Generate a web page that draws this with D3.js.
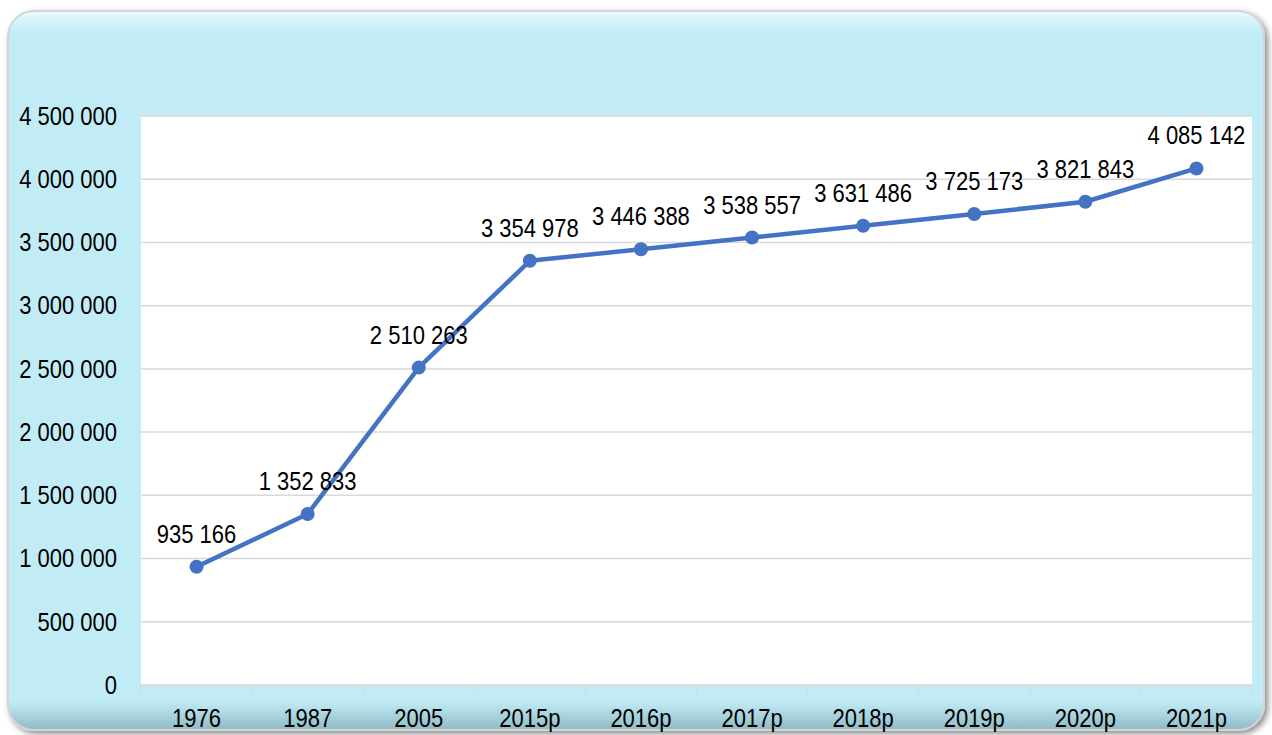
<!DOCTYPE html>
<meta charset="utf-8">
<html>
<head>
<script src="https://cdn.jsdelivr.net/npm/d3@7/dist/d3.min.js"></script>
<style>
  body { margin: 0; background: #fff; }
  text { font-family: "Liberation Sans", Arial, sans-serif; fill: #000; }
</style>
</head>
<body>
<div class="chart"></div>
<script>
// data
var years = ["1976", "1987", "2005", "2015p", "2016p", "2017p", "2018p", "2019p", "2020p", "2021p"];
var population = [935166, 1352833, 2510263, 3354978, 3446388, 3538557, 3631486, 3725173, 3821843, 4085142];
var yTicks = [0, 500000, 1000000, 1500000, 2000000, 2500000, 3000000, 3500000, 4000000, 4500000];

var W = 1272, H = 735;
var plot = {left: 141, right: 1252, top: 116, bottom: 685};
var squeeze = 0.88; // the original font is a narrow face

var svg = d3.select(".chart").append("svg")
    .attr("width", W)
    .attr("height", H);

var defs = svg.append("defs");
var shadow = defs.append("filter").attr("id", "shadow")
    .attr("x", "-5%").attr("y", "-5%").attr("width", "110%").attr("height", "110%");
shadow.append("feDropShadow")
    .attr("dx", 3).attr("dy", 3).attr("stdDeviation", 3)
    .attr("flood-color", "#000").attr("flood-opacity", 0.45);

var bevel = defs.append("linearGradient").attr("id", "bevel")
    .attr("x1", 0).attr("y1", 0).attr("x2", 0).attr("y2", 1);
bevel.append("stop").attr("offset", "0").attr("stop-color", "#eafaff");
bevel.append("stop").attr("offset", "0.03").attr("stop-color", "#c2ecf5");
bevel.append("stop").attr("offset", "0.96").attr("stop-color", "#c2ecf5");
bevel.append("stop").attr("offset", "1").attr("stop-color", "#8fb9c4");

// card
svg.append("rect")
    .attr("x", 8).attr("y", 11)
    .attr("width", 1256).attr("height", 719)
    .attr("rx", 26).attr("ry", 26)
    .attr("fill", "url(#bevel)")
    .attr("stroke", "#d4d4d4")
    .attr("stroke-width", 2)
    .attr("filter", "url(#shadow)");

// plot area
svg.append("rect")
    .attr("x", plot.left).attr("y", plot.top)
    .attr("width", plot.right - plot.left)
    .attr("height", plot.bottom - plot.top)
    .attr("fill", "#fff");

var x = d3.scaleBand().domain(years).range([plot.left, plot.right]);
var y = d3.scaleLinear().domain([0, 4500000]).range([plot.bottom, plot.top]);

function fmt(v) {
    return String(v).replace(/\B(?=(\d{3})+(?!\d))/g, " ");
}
function cx(i) { return x(years[i]) + x.bandwidth() / 2; }

// gridlines
svg.append("g").selectAll("line")
    .data(yTicks).enter()
    .append("line")
    .attr("x1", plot.left).attr("x2", plot.right)
    .attr("y1", function(d) { return y(d); })
    .attr("y2", function(d) { return y(d); })
    .attr("stroke", "#d9d9d9")
    .attr("stroke-width", 1.5);

// y axis labels
svg.append("g").selectAll("text")
    .data(yTicks).enter()
    .append("text")
    .attr("transform", function(d) { return "translate(117," + y(d) + ") scale(" + squeeze + ",1)"; })
    .attr("dy", "0.35em")
    .attr("text-anchor", "end")
    .style("font-size", "25px")
    .text(function(d) { return fmt(d); });

// x axis
var xAxis = d3.axisBottom(x).tickSize(0).tickPadding(24);
var gx = svg.append("g")
    .attr("transform", "translate(0," + plot.bottom + ")")
    .call(xAxis);
gx.select(".domain").attr("stroke", "#d9d9d9").attr("stroke-width", 1.5);
gx.selectAll(".tick text")
    .attr("transform", "scale(" + squeeze + ",1)")
    .attr("x", function(d) { return 0; })
    .style("font-size", "25px")
    .attr("fill", "#000");
gx.attr("font-family", null);
gx.selectAll(".sep")
    .data(years.concat(["end"])).enter()
    .append("line")
    .attr("class", "sep")
    .attr("x1", function(d, i) { return plot.left + i * x.bandwidth(); })
    .attr("x2", function(d, i) { return plot.left + i * x.bandwidth(); })
    .attr("y1", 0).attr("y2", 8)
    .attr("stroke", "#d9d9d9")
    .attr("stroke-width", 1.5);

// line
var line = d3.line()
    .x(function(d, i) { return cx(i); })
    .y(function(d) { return y(d); });

svg.append("path")
    .datum(population)
    .attr("d", line)
    .attr("fill", "none")
    .attr("stroke", "#4472c4")
    .attr("stroke-width", 4.5)
    .attr("stroke-linejoin", "round");

svg.append("g").selectAll("circle")
    .data(population).enter()
    .append("circle")
    .attr("cx", function(d, i) { return cx(i); })
    .attr("cy", function(d) { return y(d); })
    .attr("r", 7)
    .attr("fill", "#4472c4");

// data labels
svg.append("g").selectAll("text")
    .data(population).enter()
    .append("text")
    .attr("transform", function(d, i) { return "translate(" + cx(i) + "," + (y(d) - 24) + ") scale(" + squeeze + ",1)"; })
    .attr("text-anchor", "middle")
    .style("font-size", "25px")
    .text(function(d) { return fmt(d); });
</script>
</body>
</html>
